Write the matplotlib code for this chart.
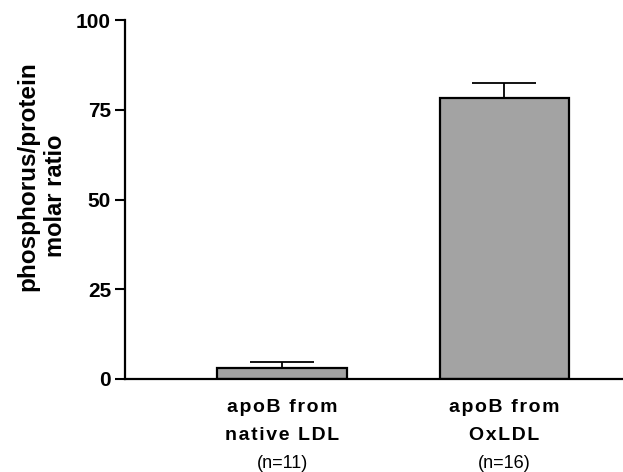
import matplotlib.pyplot as plt
from matplotlib.transforms import blended_transform_factory

# datos
grupos_l1 = ["apoB from", "apoB from"]
grupos_l2 = ["native LDL", "OxLDL"]
n_txt = ["(n=11)", "(n=16)"]
valores = [3.0, 78.3]
errores = [1.8, 4.2]
pos = [1, 2]

plt.rcParams['font.family'] = ['Liberation Sans', 'DejaVu Sans']


# espaciado entre letras como en el original
def espaciar(s):
    return '\u200a'.join(s)


fig = plt.figure(figsize=(6.23, 4.72), dpi=100)
ax = fig.add_axes([125/623, 1 - 379/472, 1 - 125/623, 359/472])

ax.bar(pos, valores, width=0.584, color='#a3a3a3', edgecolor='black', linewidth=1.6, zorder=2)
ax.errorbar(pos, valores, yerr=[[0, 0], errores], fmt='none', ecolor='black',
            elinewidth=1.3, capsize=23, capthick=1.3, zorder=3)

ax.set_xlim(0.294, 2.533)
ax.set_ylim(0, 100)
ax.set_yticks([0, 25, 50, 75, 100])
ax.set_xticks([])
ax.tick_params(axis='y', direction='out', length=7, width=1.5, labelsize=15, pad=3)
for lab in ax.get_yticklabels():
    lab.set_fontweight('bold')

ax.spines['top'].set_visible(False)
ax.spines['right'].set_visible(False)
ax.spines['left'].set_linewidth(1.6)
ax.spines['bottom'].set_linewidth(1.6)

# etiquetas de categorias debajo del eje
tr = blended_transform_factory(ax.transData, fig.transFigure)
for x, l1, l2, n in zip(pos, grupos_l1, grupos_l2, n_txt):
    ax.text(x, 1 - 408/472, espaciar(l1), transform=tr, ha='center', va='center',
            fontsize=14, fontweight='bold')
    ax.text(x, 1 - 435/472, espaciar(l2), transform=tr, ha='center', va='center',
            fontsize=14, fontweight='bold')
    ax.text(x, 1 - 463/472, n, transform=tr, ha='center', va='center', fontsize=13)

fig.text(28/623, 1 - 176/472, "phosphorus/protein", rotation=90,
         ha='center', va='center', fontsize=17.5, fontweight='bold')
fig.text(55/623, 1 - 196/472, "molar ratio", rotation=90,
         ha='center', va='center', fontsize=17, fontweight='bold')

fig.savefig("out.png", dpi=100)
